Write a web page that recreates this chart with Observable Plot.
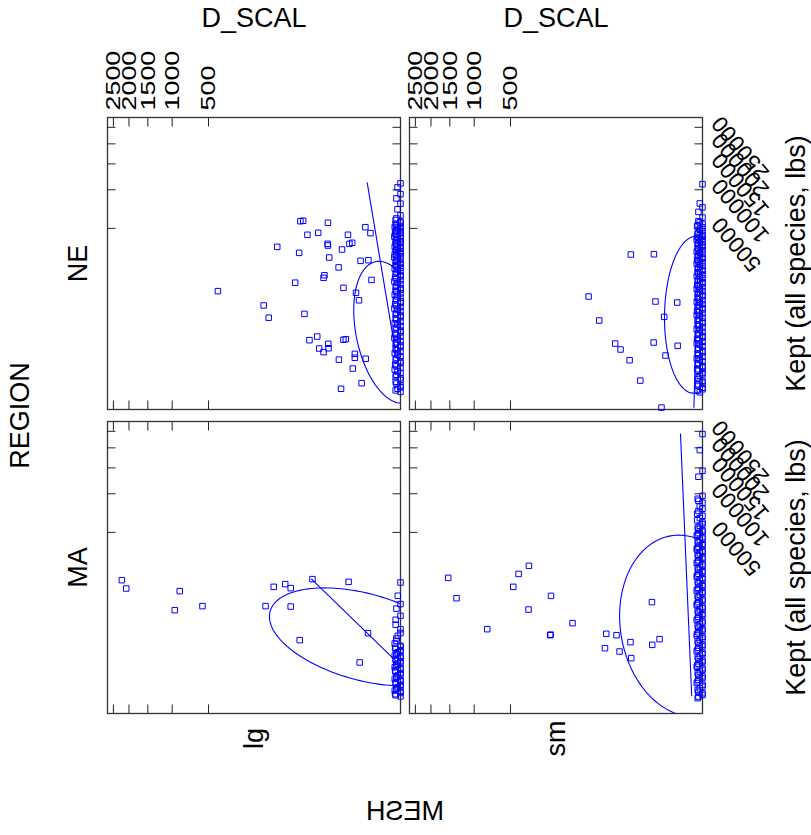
<!DOCTYPE html>
<html><head><meta charset="utf-8">
<script src="https://cdn.jsdelivr.net/npm/d3@7"></script>
<script src="https://cdn.jsdelivr.net/npm/@observablehq/plot@0.6"></script>
<style>html,body{margin:0;padding:0;background:#fff;} svg{display:block;}</style>
</head><body><div id="chart"></div>
<script>
const regions = ["NE", "MA"];
const meshes = ["lg", "sm"];
const dScalTicks = [500, 1000, 1500, 2000, 2500];
const keptTicks = [50000, 100000, 150000, 200000, 250000];

// [D_SCAL, Kept] scattered points per panel
const neLg = [[409,11500],[129,7500],[111,5000],[85,34200],[45.3,14500],[38.8,30000],[36.9,57400],[33,57900],[31.3,5700],[27.6,44000],[25.3,2090],[17.7,2440],[16.9,45800],[16.1,1430],[12.9,1200],[12.9,16500],[12.3,17600],[10.2,55700],[10.4,36500],[10.2,35200],[9.5,27000],[10,1780],[9.9,1450],[5.4,21400],[5.3,810],[4.6,105],[4.3,32300],[3.9,12600],[3.9,2130],[3.3,2180],[2.8,44000],[2.5,36500],[2.0,37300],[1.9,480],[1.6,1100],[1.6,895],[1.44,10960],[1.09,8800],[0.93,25000],[0.84,170],[0.56,51200],[0.54,850],[0.39,25400],[0.30,45500],[0.26,15600]];
const neLgEdge = [[0,111000],[0.00003,104000],[0,93000],[0.0001,86500],[0,79000],[0.00003,71500],[0,64000],[0.0001,60500],[0,57000],[0.0002,54500],[0,52500],[0.00003,50500],[0.0001,48200],[0,46400],[0.0003,45100],[0,43200],[0.00003,41600],[0.0001,40100],[0,38200],[0.0002,36800],[0,35100],[0.00003,33600],[0.0001,32000],[0,30600],[0.0004,29100],[0,27800],[0.00003,26400],[0.0001,25100],[0,23900],[0.0002,22600],[0,21300],[0.00003,20100],[0.0001,18900],[0,17700],[0.0003,16600],[0,15500],[0.00003,14400],[0.0001,13400],[0,12500],[0.0002,11600],[0,10800],[0.00003,9900],[0.0001,9200],[0,8500],[0.0003,7800],[0,7100],[0.00003,6500],[0.0001,5900],[0,5400],[0.0002,4850],[0,4350],[0.00003,3900],[0.0001,3500],[0,3100],[0.0003,2750],[0,2450],[0.00003,2150],[0.0001,1900],[0,1650],[0.0002,1420],[0,1230],[0.00003,1050],[0.0001,890],[0,740],[0.0003,610],[0,500],[0.00003,400],[0.0001,320],[0,250],[0.0002,190],[0,140],[0.00003,105],[0,78]];
const neLgEdge2 = [[0.0002,58800],[0,55800],[0.0001,53300],[0.0004,51400],[0,49300],[0.0002,47300],[0,45700],[0.0001,44100],[0.0005,42400],[0,40800],[0.0002,39100],[0,37500],[0.0001,35900],[0.0004,34300],[0,32800],[0.0002,31300],[0,29800],[0.0001,28400],[0.0005,27100],[0,25700],[0.0002,24500],[0,23200],[0.0001,22000],[0.0004,20700],[0,19500],[0.0002,18300],[0,17100],[0.0001,16000],[0.0005,15000],[0,13900],[0.0002,12900],[0,12000],[0.0001,11200],[0.0004,10400],[0,9500],[0.0002,8800],[0,8100],[0.0001,7400],[0.0005,6800],[0,6200],[0.0002,5650],[0,5100],[0.0001,4600],[0.0004,4100],[0,3700],[0.0002,3300],[0,2900],[0.0001,2600],[0.0005,2300],[0,2000],[0.0002,1780],[0,1530],[0.0001,1320],[0.0004,1130],[0,960],[0.0002,810],[0,670],[0.0001,550],[0.0004,450],[0,360],[0.0002,285],[0,220],[0.0001,165],[0,120],[0.0002,90]];
const neSm = [[62,9840],[41.9,4530],[21.4,1800],[16.6,1365],[10.4,784],[9.7,28900],[5.5,209],[2.1,1885],[2.05,29100],[1.8,8475],[1.04,11],[0.79,5150],[0.69,1010],[0.15,8210],[0.14,1625]];
const neSmEdge = [[0,109500],[0.00002,79300],[0,74000],[0.0001,68200],[0,61500],[0.00002,56200],[0.0002,53200],[0,51000],[0.00002,48600],[0.0001,46100],[0,44000],[0.0003,42200],[0,40500],[0.00002,38600],[0.0001,36900],[0,35200],[0.0002,33300],[0,31800],[0.00002,30100],[0.0001,28600],[0,27000],[0.0003,25600],[0,24100],[0.00002,22800],[0.0001,21400],[0,20200],[0.0002,19000],[0,17900],[0.00002,16800],[0.0001,15700],[0,14700],[0.0003,13700],[0,12800],[0.00002,11900],[0.0001,11100],[0,10300],[0.0002,9500],[0,8800],[0.00002,8100],[0.0001,7500],[0,6900],[0.0003,6300],[0,5800],[0.00002,5300],[0.0001,4800],[0,4350],[0.0002,3900],[0,3500],[0.00002,3150],[0.0001,2800],[0,2500],[0.0003,2200],[0,1950],[0.00002,1700],[0.0001,1480],[0,1280],[0.0002,1100],[0,950],[0.00002,800],[0.0001,670],[0,560],[0.0003,460],[0,370],[0.00002,300],[0.0001,235],[0,180],[0.0002,135],[0,100],[0.00002,75]];
const neSmEdge2 = [[0.0001,57500],[0,54600],[0.0003,52100],[0.00002,49800],[0,47300],[0.0002,45000],[0,43100],[0.0001,41300],[0.0004,39500],[0,37700],[0.0002,36000],[0,34200],[0.0001,32500],[0.0004,30900],[0,29300],[0.0002,27800],[0,26300],[0.0001,24800],[0.0004,23400],[0,22100],[0.0002,20800],[0,19600],[0.0001,18400],[0.0004,17300],[0,16200],[0.0002,15200],[0,14200],[0.0001,13200],[0.0004,12300],[0,11500],[0.0002,10700],[0,9900],[0.0001,9100],[0.0004,8400],[0,7800],[0.0002,7200],[0,6600],[0.0001,6000],[0.0004,5500],[0,5000],[0.0002,4550],[0,4100],[0.0001,3700],[0.0004,3300],[0,2950],[0.0002,2650],[0,2350],[0.0001,2070],[0.0004,1820],[0,1590],[0.0002,1380],[0,1190],[0.0001,1020],[0.0004,870],[0,730],[0.0002,610],[0,510],[0.0001,415],[0,330],[0.0002,265],[0,205],[0.0001,155],[0,115],[0.0002,88]];
const maLg = [[2218,17190],[2083,13810],[955,7330],[874,12860],[566,8320],[122,8320],[95,14440],[65,15520],[53.5,13950],[53.5,8210],[38,2480],[22.1,17670],[2.67,16480],[1.02,863],[0.41,3284]];
const maLgEdge = [[0,16200],[0.00002,11300],[0,8850],[0.0001,7700],[0,6100],[0.0002,5340],[0,3820],[0.00002,2950],[0.0001,2400],[0,1950],[0.0003,1780],[0,1600],[0.00002,1450],[0.0001,1300],[0,1170],[0.0002,1040],[0,920],[0.00002,810],[0.0001,710],[0,620],[0.0003,540],[0,465],[0.00002,400],[0.0001,340],[0,290],[0.0002,245],[0,205],[0.00002,170],[0.0001,140],[0,115],[0.0003,92],[0,74]];
const maLgEdge2 = [[0.0002,4500],[0,3300],[0.0001,2650],[0.0004,2150],[0,1870],[0.0002,1690],[0,1520],[0.0001,1370],[0.0004,1230],[0,1100],[0.0002,980],[0,860],[0.0001,760],[0.0004,660],[0,580],[0.0002,500],[0,430],[0.0001,370],[0.0004,315],[0,265],[0.0002,225],[0,185],[0.0001,155],[0.0004,128],[0,103],[0.0002,83]];
const maSm = [[1539,18230],[1347,10530],[790,3820],[472,14440],[421,20120],[334,24420],[337,7480],[194,11260],[198,3030],[196,3100],[105,4750],[33.3,1750],[31.6,3200],[20.1,3030],[17.4,1500],[9.9,2280],[9.5,1085],[2.41,9375],[2.35,2030],[1.25,2584]];
const maSmEdge = [[0,241000],[0.00002,193800],[0,143700],[0.0001,131200],[0,96600],[0.0002,92000],[0,86000],[0.00002,80500],[0.0001,74500],[0,68400],[0.0003,63000],[0,58500],[0.00002,56800],[0.0001,53500],[0,50800],[0.0002,48000],[0,45500],[0.00002,43000],[0.0001,40800],[0,38500],[0.0003,36400],[0,34300],[0.00002,32400],[0.0001,30500],[0,28700],[0.0002,27000],[0,25300],[0.00002,23800],[0.0001,22300],[0,20900],[0.0003,19500],[0,18200],[0.00002,17000],[0.0001,15800],[0,14700],[0.0002,13600],[0,12600],[0.00002,11600],[0.0001,10700],[0,9800],[0.0003,9000],[0,8200],[0.00002,7500],[0.0001,6800],[0,6200],[0.0002,5600],[0,5050],[0.00002,4550],[0.0001,4050],[0,3600],[0.0003,3200],[0,2850],[0.00002,2500],[0.0001,2200],[0,1900],[0.0002,1650],[0,1420],[0.00002,1220],[0.0001,1040],[0,880],[0.0003,740],[0,620],[0.00002,510],[0.0001,415],[0,335],[0.0002,265],[0,205],[0.00002,155],[0.0001,115],[0,85],[0.0002,62]];
const maSmEdge2 = [[0.0001,89000],[0,77500],[0.0003,71000],[0.00002,65500],[0,60500],[0.0002,55000],[0,52000],[0.0001,49300],[0.0004,46700],[0,44200],[0.0002,41900],[0,39600],[0.0001,37400],[0.0004,35300],[0,33300],[0.0002,31400],[0,29600],[0.0001,27800],[0.0004,26100],[0,24500],[0.0002,23000],[0,21600],[0.0001,20200],[0.0004,18800],[0,17600],[0.0002,16400],[0,15200],[0.0001,14100],[0.0004,13100],[0,12100],[0.0002,11100],[0,10200],[0.0001,9400],[0.0004,8600],[0,7800],[0.0002,7100],[0,6500],[0.0001,5900],[0.0004,5300],[0,4800],[0.0002,4300],[0,3800],[0.0001,3400],[0.0004,3000],[0,2650],[0.0002,2350],[0,2050],[0.0001,1780],[0.0004,1530],[0,1320],[0.0002,1130],[0,960],[0.0001,810],[0.0004,680],[0,565],[0.0002,460],[0,375],[0.0001,300],[0.0004,235],[0,180],[0.0002,135],[0,100],[0.0001,73]];

// ellipse: centre (data units), spreads in fourth-root units, correlation
const ellipses = [
  {region: "NE", mesh: "lg", dCenter: 0.004, keptCenter: 2903, dSpread: 0.90, keptSpread: 5.2, rho: 0.31},
  {region: "NE", mesh: "sm", dCenter: 0.0012, keptCenter: 5547, dSpread: 0.75, keptSpread: 5.75, rho: -0.04},
  {region: "MA", mesh: "lg", dCenter: 0.68, keptCenter: 2832, dSpread: 2.32, keptSpread: 3.59, rho: 0.415},
  {region: "MA", mesh: "sm", dCenter: 0.026, keptCenter: 4305, dSpread: 1.64, keptSpread: 6.65, rho: 0.11}
];
// fitted lines: two end points
const fitLines = [
  {region: "NE", mesh: "lg", d1: 0.45, k1: 111900, d2: 0.00009, k2: 876},
  {region: "NE", mesh: "sm", d1: 0.002, k1: 11.7, d2: 0.00008, k2: 42760},
  {region: "MA", mesh: "lg", d1: 23.0, k1: 17670, d2: 0.00018, k2: 942},
  {region: "MA", mesh: "sm", d1: 0.086, k1: 241100, d2: 0.005, k2: 79}
];

const rows = [];
function addRows(arr, region, mesh) { for (const [d, k] of arr) rows.push({region, mesh, D: d, K: k}); }
addRows(neLg, "NE", "lg"); addRows(neLgEdge, "NE", "lg"); addRows(neLgEdge2, "NE", "lg");
addRows(neSm, "NE", "sm"); addRows(neSmEdge, "NE", "sm"); addRows(neSmEdge2, "NE", "sm");
addRows(maLg, "MA", "lg"); addRows(maLgEdge, "MA", "lg"); addRows(maLgEdge2, "MA", "lg");
addRows(maSm, "MA", "sm"); addRows(maSmEdge, "MA", "sm"); addRows(maSmEdge2, "MA", "sm");

const ellipseRows = [];
for (const e of ellipses) {
  const cu = Math.pow(e.dCenter, 0.25), ku = Math.pow(e.keptCenter, 0.25);
  const n = 160;
  for (let i = 0; i <= n; i++) {
    const t = 2 * Math.PI * i / n;
    const ud = cu + e.dSpread * Math.cos(t);
    const uk = ku + e.keptSpread * (e.rho * Math.cos(t) + Math.sqrt(1 - e.rho * e.rho) * Math.sin(t));
    ellipseRows.push({region: e.region, mesh: e.mesh, id: e.region + e.mesh, D: Math.sign(ud) * ud ** 4, K: Math.sign(uk) * uk ** 4});
  }
}
const fitRows = [];
for (const f of fitLines) {
  fitRows.push({region: f.region, mesh: f.mesh, id: f.region + f.mesh, D: f.d1, K: f.k1});
  fitRows.push({region: f.region, mesh: f.mesh, id: f.region + f.mesh, D: f.d2, K: f.k2});
}

const font = "'Liberation Sans', Arial, Helvetica, sans-serif";
const blue = "#0000ff";
const mid = {textAnchor: "middle", lineAnchor: "middle"};
const svg = Plot.plot({
  width: 811, height: 835,
  marginTop: 117, marginBottom: 122, marginLeft: 107, marginRight: 109,
  style: {fontFamily: font, background: "#fff", color: "#000", overflow: "visible"},
  x: {type: "pow", exponent: 0.25, domain: [2712, 0], axis: null},
  y: {type: "pow", exponent: 0.25, domain: [8, 283700], axis: null},
  fx: {domain: meshes, paddingInner: 0.03, paddingOuter: 0, axis: null},
  fy: {domain: regions, paddingInner: 0.0395, paddingOuter: 0, axis: null},
  marks: [
    Plot.frame({stroke: "#333", strokeWidth: 1.3}),
    Plot.axisX({anchor: "top", ticks: dScalTicks, tickSize: -8.5, fill: "none", label: null, facetAnchor: null, stroke: "#222"}),
    Plot.axisX({anchor: "bottom", ticks: dScalTicks, tickSize: -8.5, fill: "none", label: null, facetAnchor: null, stroke: "#222"}),
    Plot.axisY({anchor: "left", ticks: keptTicks, tickSize: -8.5, fill: "none", label: null, facetAnchor: null, stroke: "#222"}),
    Plot.axisY({anchor: "right", ticks: keptTicks, tickSize: -8.5, fill: "none", label: null, facetAnchor: null, stroke: "#222"}),
    Plot.axisX({anchor: "top", ticks: dScalTicks, tickSize: 0, tickRotate: -90, textAnchor: "start", lineAnchor: "middle", tickPadding: 7, tickFormat: "d", label: null, fontSize: 21, facetAnchor: "top"}),
    Plot.axisY({anchor: "right", ticks: keptTicks, tickSize: 0, tickRotate: -130, textAnchor: "end", lineAnchor: "middle", tickPadding: 14, dy: -8, tickFormat: "d", label: null, fontSize: 22.5, facetAnchor: "right"}),
    Plot.line(ellipseRows, {x: "D", y: "K", z: "id", fx: "mesh", fy: "region", stroke: blue, strokeWidth: 1.1, clip: true}),
    Plot.line(fitRows, {x: "D", y: "K", z: "id", fx: "mesh", fy: "region", stroke: blue, strokeWidth: 1.1}),
    Plot.dot(rows, {x: "D", y: "K", fx: "mesh", fy: "region", symbol: "square", r: 3.1, stroke: blue, fill: "none", strokeWidth: 1}),
    Plot.text(regions, {fy: d => d, text: d => d, frameAnchor: "left", rotate: -90, dx: -29, fontSize: 27, facetAnchor: "left", ...mid}),
    Plot.text(meshes, {fx: d => d, text: d => d, frameAnchor: "bottom", rotate: -90, dy: 25, fontSize: 27, facetAnchor: "bottom", ...mid}),
    Plot.text(["D_SCAL"], {text: d => d, frameAnchor: "top", dy: -99, fontSize: 27, facetAnchor: "top", ...mid}),
    Plot.text(["Kept (all species, lbs)"], {text: d => d, frameAnchor: "right", rotate: -90, dx: 94, fontSize: 27, facetAnchor: "right", ...mid}),
    Plot.text([{region: "NE", mesh: "lg", label: "REGION"}], {fx: "mesh", fy: "region", text: "label", frameAnchor: "bottom-left", rotate: -90, dx: -87, dy: 6, fontSize: 27, ...mid}),
    Plot.text([{region: "MA", mesh: "lg", label: "MESH"}], {fx: "mesh", fy: "region", text: "label", frameAnchor: "bottom-right", dx: 4.5, dy: 98, fontSize: 27, ...mid})
  ]
});
document.getElementById("chart").append(svg);
const s = d3.select(svg);
s.selectAll('g[aria-label="x-axis tick label"] text').each(function () {
  this.setAttribute("transform", (this.getAttribute("transform") || "") + " scale(1.28,1)");
});
s.selectAll("text").filter(function () { return this.textContent === "MESH"; }).each(function () {
  const b = this.getBBox();
  const cx = b.x + b.width / 2;
  this.setAttribute("transform", (this.getAttribute("transform") || "") + ` translate(${2 * cx},0) scale(-1,1)`);
});
</script>
</body></html>
